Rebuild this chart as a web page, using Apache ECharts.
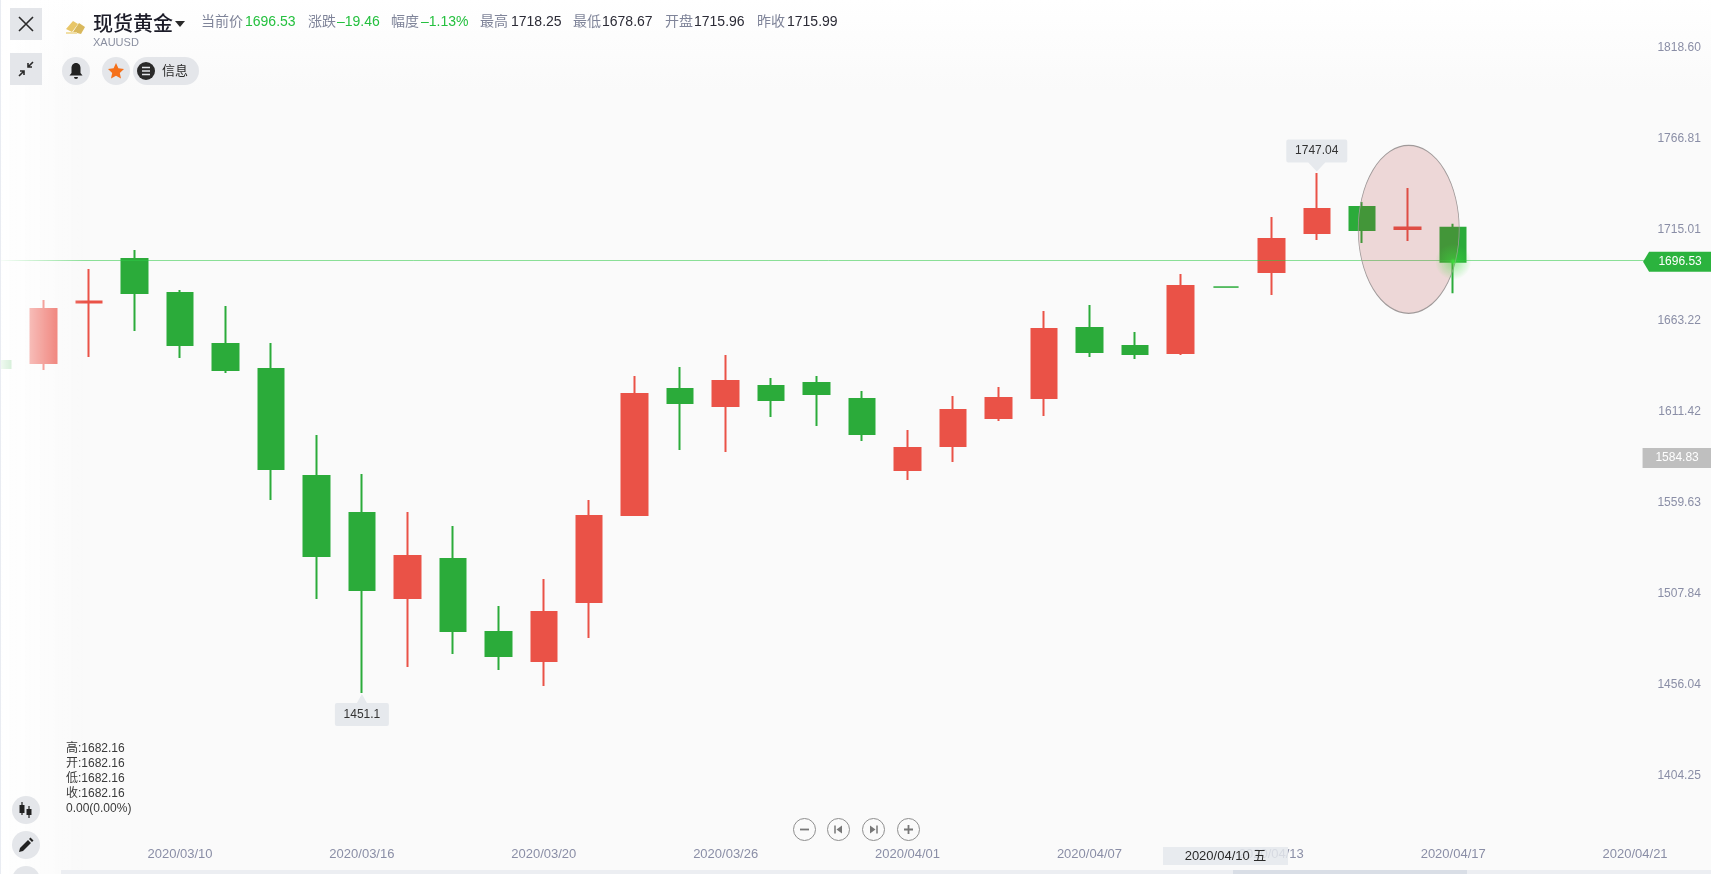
<!DOCTYPE html>
<html lang="zh">
<head>
<meta charset="utf-8">
<title>现货黄金 XAUUSD</title>
<script src="https://cdn.jsdelivr.net/npm/echarts@6/dist/echarts.min.js"></script>
<style>
  html, body { margin: 0; width: 100%; height: 100%; overflow: hidden; }
  body {
    position: relative;
    background: linear-gradient(180deg, #fff 0, #fafafa 90px);
    font-family: 'Liberation Sans', 'Noto Sans CJK SC', sans-serif;
  }
  #chart { position: absolute; left: 0; top: 0; width: 1711px; height: 874px; }
  #fade {
    position: absolute; left: 0; top: 0; width: 86px; height: 874px;
    background: linear-gradient(90deg, rgba(255,255,255,.93), rgba(255,255,255,0));
    border-left: 1px solid #e9ecf2; box-sizing: border-box;
  }
  .abs { position: absolute; white-space: nowrap; }
  .square { width: 32px; height: 32px; left: 10px; background: #e4e6ea; display: flex; align-items: center; justify-content: center; }
  .round { width: 28px; height: 28px; border-radius: 50%; background: #e4e6ea; display: flex; align-items: center; justify-content: center; }
  .stat { top: 13px; font-size: 14px; line-height: 16px; }
  .k { color: #7f8499; }
  .up { color: #25c03f; }
  .v { color: #2b2b36; }
  .ohlc { left: 66px; font-size: 12px; line-height: 15px; color: #3a3a3a; }
  .zoom { width: 23px; height: 23px; top: 818px; border: 1px solid #8e8e8e; border-radius: 50%; display: flex; align-items: center; justify-content: center; box-sizing: border-box; }
</style>
</head>
<body>
<div id="chart"></div>
<div id="fade"></div>

<div class="abs square" style="top:8px">
  <svg width="18" height="18" viewBox="0 0 18 18"><path d="M2 2L16 16M16 2L2 16" stroke="#2a2a2a" stroke-width="1.6"/></svg>
</div>
<div class="abs square" style="top:53px">
  <svg width="18" height="18" viewBox="0 0 18 18"><path d="M16 2L11 7M11 3V7H15M2 16L7 11M3 11H7V15" stroke="#2a2a2a" stroke-width="1.6" fill="none"/></svg>
</div>

<svg class="abs" style="left:65px;top:18px" width="21" height="17" viewBox="0 0 21 17">
  <path d="M1 11L8 3L13 6L7 14Z" fill="#e8c668"/><path d="M8 14L14 5L20 9L16 16Z" fill="#d9b85c"/><path d="M1 14H12V16H1Z" fill="#f1dfa6"/>
</svg>
<div class="abs" style="left:93px;top:12px;font-size:20px;line-height:24px;color:#1c1c28;font-weight:500">现货黄金</div>
<svg class="abs" style="left:175px;top:21px" width="10" height="7"><path d="M0 0H10L5 6Z" fill="#2a2a2a"/></svg>
<div class="abs" style="left:93px;top:36px;font-size:11px;line-height:13px;color:#8a8fa0">XAUUSD</div>

<span class="abs stat k" style="left:201px">当前价</span><span class="abs stat up" style="left:245px">1696.53</span>
<span class="abs stat k" style="left:308px">涨跌</span><span class="abs stat up" style="left:337px">–19.46</span>
<span class="abs stat k" style="left:391px">幅度</span><span class="abs stat up" style="left:421px">–1.13%</span>
<span class="abs stat k" style="left:480px">最高</span><span class="abs stat v" style="left:511px">1718.25</span>
<span class="abs stat k" style="left:573px">最低</span><span class="abs stat v" style="left:602px">1678.67</span>
<span class="abs stat k" style="left:665px">开盘</span><span class="abs stat v" style="left:694px">1715.96</span>
<span class="abs stat k" style="left:757px">昨收</span><span class="abs stat v" style="left:787px">1715.99</span>

<div class="abs round" style="left:62px;top:57px">
  <svg width="16" height="18" viewBox="0 0 16 18"><path d="M8 1C5 1 3.500 3.500 3.500 6V11L1.500 13.500H14.500L12.500 11V6C12.500 3.500 11 1 8 1ZM6 15H10A2 2 0 0 1 6 15Z" fill="#222"/></svg>
</div>
<div class="abs round" style="left:102px;top:57px">
  <svg width="18" height="18" viewBox="0 0 18 18"><path d="M9 1L11.400 6.300L17 7L12.800 10.900L14 16.600L9 13.700L4 16.600L5.200 10.900L1 7L6.600 6.300Z" fill="#f5701a"/></svg>
</div>
<div class="abs" style="left:133px;top:57px;width:66px;height:28px;border-radius:14px;background:#e4e6ea">
  <svg class="abs" style="left:4px;top:5px" width="18" height="18" viewBox="0 0 18 18"><circle cx="9" cy="9" r="9" fill="#2a2a2a"/><path d="M5 5.500H13M5 9H13M5 12.500H13" stroke="#e4e6ea" stroke-width="1.600"/></svg>
  <span class="abs" style="left:29px;top:6px;font-size:13px;line-height:16px;color:#2a2a2a">信息</span>
</div>

<div class="abs ohlc" style="top:741px">高:1682.16</div>
<div class="abs ohlc" style="top:756px">开:1682.16</div>
<div class="abs ohlc" style="top:771px">低:1682.16</div>
<div class="abs ohlc" style="top:786px">收:1682.16</div>
<div class="abs ohlc" style="top:801px">0.00(0.00%)</div>

<div class="abs round" style="left:12px;top:796px">
  <svg width="16" height="18" viewBox="0 0 16 18"><path d="M4 1V4M4 12V14M11 5V8M11 14V17" stroke="#222" stroke-width="1.200"/><rect x="1.500" y="4" width="5" height="8" fill="#222"/><rect x="8.500" y="8" width="5" height="6" fill="#222"/></svg>
</div>
<div class="abs round" style="left:12px;top:831px">
  <svg width="16" height="16" viewBox="0 0 16 16"><path d="M1 15L2 11L10 3L13 6L5 14ZM11 2L12.500 .5L15.500 3.500L14 5Z" fill="#222"/></svg>
</div>
<div class="abs round" style="left:12px;top:866px"></div>

<div class="abs zoom" style="left:793px">
  <svg width="11" height="11"><path d="M1 5.500H10" stroke="#777" stroke-width="1.800"/></svg>
</div>
<div class="abs zoom" style="left:827px">
  <svg width="11" height="11"><path d="M2 1.500V9.500" stroke="#777" stroke-width="1.500"/><path d="M9 1.500V9.500L3.500 5.500Z" fill="#777"/></svg>
</div>
<div class="abs zoom" style="left:862px">
  <svg width="11" height="11"><path d="M9 1.500V9.500" stroke="#777" stroke-width="1.500"/><path d="M2 1.500V9.500L7.500 5.500Z" fill="#777"/></svg>
</div>
<div class="abs zoom" style="left:897px">
  <svg width="11" height="11"><path d="M1 5.500H10M5.500 1V10" stroke="#777" stroke-width="1.800"/></svg>
</div>

<div class="abs" style="left:1163px;top:847px;width:125px;height:18px;background:rgba(228,231,236,.85);font-size:13px;line-height:18px;color:#2a2a2a;text-align:center">2020/04/10 五</div>

<div class="abs" style="left:61px;top:870px;width:1650px;height:4px;background:#eceef2"></div>
<div class="abs" style="left:1233px;top:870px;width:234px;height:4px;background:#d9dee6"></div>

<script>
// trading days, then empty slots to the right of the last bar
const categories = [
  '2020/03/04', '2020/03/05', '2020/03/06', '2020/03/09', '2020/03/10', '2020/03/11', '2020/03/12', '2020/03/13',
  '2020/03/16', '2020/03/17', '2020/03/18', '2020/03/19', '2020/03/20', '2020/03/23', '2020/03/24', '2020/03/25',
  '2020/03/26', '2020/03/27', '2020/03/30', '2020/03/31', '2020/04/01', '2020/04/02', '2020/04/03', '2020/04/06',
  '2020/04/07', '2020/04/08', '2020/04/09', '2020/04/10', '2020/04/13', '2020/04/14', '2020/04/15', '2020/04/16',
  '2020/04/17', '2020/04/18', '2020/04/19', '2020/04/20', '2020/04/21'
];
const xTickLabels = ['2020/03/10', '2020/03/16', '2020/03/20', '2020/03/26', '2020/04/01', '2020/04/07', '2020/04/13', '2020/04/17', '2020/04/21'];
const yTicks = [1404.25, 1456.04, 1507.84, 1559.63, 1611.42, 1663.22, 1715.01, 1766.81, 1818.60];

// [open, close, low, high]
const ohlc = [
  [1640.06, 1636.07, 1636.07, 1640.06],
  [1638.92, 1669.65, 1634.94, 1674.77],
  [1673.40, 1674.00, 1642.33, 1692.42],
  [1698.11, 1678.76, 1657.13, 1703.23],
  [1678.76, 1649.16, 1641.77, 1680.47],
  [1649.73, 1634.94, 1633.23, 1671.36],
  [1635.50, 1578.59, 1560.95, 1650.30],
  [1574.61, 1529.08, 1504.61, 1597.94],
  [1553.55, 1509.73, 1451.10, 1575.75],
  [1505.18, 1529.08, 1465.91, 1554.12],
  [1527.37, 1486.40, 1473.31, 1546.15],
  [1485.83, 1472.17, 1464.20, 1500.62],
  [1469.32, 1497.21, 1455.09, 1515.99],
  [1502.90, 1551.84, 1482.41, 1560.95],
  [1552.41, 1621.28, 1551.84, 1631.52],
  [1624.12, 1616.16, 1589.41, 1636.64],
  [1614.45, 1628.68, 1588.27, 1643.47],
  [1625.83, 1617.86, 1608.19, 1630.38],
  [1627.54, 1621.28, 1603.06, 1631.52],
  [1618.43, 1598.51, 1594.53, 1622.98],
  [1578.02, 1590.54, 1572.33, 1600.79],
  [1591.68, 1612.17, 1582.58, 1620.13],
  [1607.62, 1619.00, 1605.91, 1625.26],
  [1619.00, 1658.27, 1608.76, 1668.51],
  [1658.84, 1645.18, 1642.33, 1671.93],
  [1648.59, 1644.04, 1641.20, 1656.56],
  [1644.61, 1682.74, 1643.47, 1689.57],
  [1682.16, 1682.16, 1682.16, 1682.16],
  [1690.71, 1709.49, 1677.62, 1722.01],
  [1712.91, 1726.56, 1708.92, 1747.04],
  [1727.70, 1714.61, 1707.21, 1730.55],
  [1715.20, 1715.99, 1708.35, 1738.52],
  [1715.96, 1696.53, 1678.67, 1718.25]
];

const lastPrice = 1696.53;
const refPrice = 1584.83;
const highPrice = 1747.04;
const lowPrice = 1451.1;

const RED = '#ea5247';
const GREEN = '#2bab3a';
const AXIS_TEXT = '#8a8ea6';
const FONT = "'Liberation Sans', 'Noto Sans CJK SC', sans-serif";
const lastCategory = categories[categories.length - 1];

// 平盘的那根只画一条细线
const candleData = ohlc.map(d => (d[0] === d[1] && d[2] === d[3] && d[0] === 1682.16 ? { value: d, itemStyle: { borderWidth: 1 } } : d));

const chart = echarts.init(document.getElementById('chart'));

chart.setOption({
  animation: false,
  backgroundColor: 'transparent',
  textStyle: { fontFamily: FONT },
  grid: { left: -24.6, top: 47.3, width: 1682.4, height: 728.1, outerBoundsMode: 'none' },
  xAxis: {
    type: 'category',
    data: categories,
    axisLine: { show: false },
    axisTick: { show: false },
    splitLine: { show: false },
    axisLabel: {
      margin: 73,
      color: AXIS_TEXT,
      fontSize: 13,
      fontFamily: FONT,
      hideOverlap: false,
      interval: (index, value) => xTickLabels.includes(value)
    }
  },
  yAxis: {
    type: 'value',
    position: 'right',
    min: yTicks[0],
    max: yTicks[yTicks.length - 1],
    axisLine: { show: false },
    axisTick: { show: false },
    splitLine: { show: false },
    axisLabel: {
      customValues: yTicks,
      align: 'right',
      margin: 43,
      color: AXIS_TEXT,
      fontSize: 12,
      fontFamily: FONT,
      showMinLabel: true,
      showMaxLabel: true,
      formatter: v => v.toFixed(2)
    }
  },
  series: [
    {
      type: 'candlestick',
      data: candleData,
      barWidth: 26,
      itemStyle: { color: RED, color0: GREEN, borderColor: RED, borderColor0: GREEN, borderWidth: 2 },
      markLine: {
        silent: true,
        symbol: 'none',
        z: 5,
        label: { show: false },
        lineStyle: { type: 'solid', width: 1, color: 'rgba(45,200,70,0.55)' },
        data: [{ yAxis: lastPrice + 0.8 }]
      },
      markPoint: {
        silent: true,
        z: 6,
        data: [
          // 圈出的区域
          {
            coord: [categories[31], 1715.01],
            symbol: 'circle',
            symbolSize: [101, 168],
            symbolOffset: [1, 0],
            itemStyle: { color: 'rgba(176,58,58,0.18)', borderColor: '#a09a9a', borderWidth: 1 },
            label: { show: false }
          },
          // 最新价光点
          {
            coord: [categories[32], lastPrice],
            symbol: 'circle',
            symbolSize: 36,
            itemStyle: {
              color: {
                type: 'radial', x: 0.5, y: 0.5, r: 0.5,
                colorStops: [
                  { offset: 0, color: 'rgba(60,235,60,0.9)' },
                  { offset: 0.2, color: 'rgba(60,225,60,0.4)' },
                  { offset: 1, color: 'rgba(60,225,60,0)' }
                ]
              }
            },
            label: { show: false }
          },
          {
            coord: [categories[29], highPrice],
            symbol: 'path://M2 0H59a2 2 0 0 1 2 2V21a2 2 0 0 1-2 2H39L30.500 32L22 23H2a2 2 0 0 1-2-2V2A2 2 0 0 1 2 0Z',
            symbolSize: [61, 32],
            symbolOffset: [0, -17.5],
            itemStyle: { color: '#e6e9ed' },
            label: { show: true, position: 'inside', offset: [0, -5], formatter: String(highPrice), color: '#333', fontSize: 12, fontFamily: FONT }
          },
          {
            coord: [categories[8], lowPrice],
            symbol: 'path://M2 9H22L27 0L32 9H52a2 2 0 0 1 2 2V30a2 2 0 0 1-2 2H2a2 2 0 0 1-2-2V11A2 2 0 0 1 2 9Z',
            symbolSize: [54, 32],
            symbolOffset: [0, 17],
            itemStyle: { color: '#e6e9ed' },
            label: { show: true, position: 'inside', offset: [0, 4.5], formatter: String(lowPrice), color: '#333', fontSize: 12, fontFamily: FONT }
          },
          {
            coord: [lastCategory, lastPrice],
            symbol: 'path://M6 0H68V20H6L0 10Z',
            symbolSize: [68, 20],
            symbolOffset: [42, 0],
            itemStyle: { color: '#2bb33e' },
            label: { show: true, position: 'inside', offset: [3, 0], formatter: lastPrice.toFixed(2), color: '#fff', fontSize: 12, fontFamily: FONT }
          },
          {
            coord: [lastCategory, refPrice],
            symbol: 'rect',
            symbolSize: [69, 20],
            symbolOffset: [42, 0],
            itemStyle: { color: '#bfbfbf' },
            label: { show: true, position: 'inside', formatter: refPrice.toFixed(2), color: '#fff', fontSize: 12, fontFamily: FONT }
          }
        ]
      }
    }
  ]
});
</script>
</body>
</html>
